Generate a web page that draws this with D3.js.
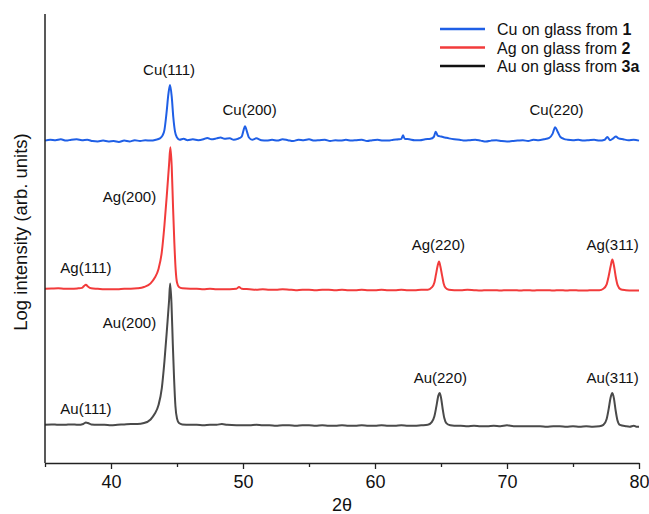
<!DOCTYPE html>
<html>
<head>
<meta charset="utf-8">
<script src="https://cdn.jsdelivr.net/npm/d3@7"></script>
<style>
  body { margin: 0; background: #fff; }
  svg text { font-family: "Liberation Sans", Arial, Helvetica, sans-serif; fill: #111; }
</style>
</head>
<body>
<div id="chart"></div>
<script>
// 2theta (deg) vs log intensity (arb. units, traces offset)
var cuData = [
  [35.0,71.8],[35.4,72.0],[35.8,71.9],[36.2,72.1],[36.6,71.8],[37.0,72.0],[37.4,72.1],[37.8,71.9],
  [38.2,72.0],[38.6,71.7],[39.0,71.6],[39.4,71.8],[39.8,71.6],[40.2,71.7],[40.6,71.5],[41.0,71.8],
  [41.4,71.6],[41.8,71.9],[42.2,71.7],[42.6,71.9],[43.0,71.8],[43.4,72.0],[43.7,72.3],[43.9,72.9],
  [44.05,74.2],[44.2,77.8],[44.35,82.2],[44.47,84.2],[44.6,81.6],[44.72,77.0],[44.85,73.8],[45.0,72.5],
  [45.2,72.0],[45.5,72.2],[45.8,71.9],[46.2,72.1],[46.6,71.9],[47.0,72.1],[47.3,72.4],[47.6,72.1],
  [48.0,72.3],[48.3,72.5],[48.6,72.2],[49.0,72.3],[49.3,72.0],[49.6,72.2],[49.9,72.7],[50.05,74.2],
  [50.15,75.0],[50.3,73.8],[50.45,72.5],[50.7,72.0],[51.0,72.3],[51.4,71.9],[51.8,71.8],[52.2,72.0],
  [52.6,71.8],[53.0,72.1],[53.4,71.9],[53.8,71.7],[54.2,72.0],[54.6,71.9],[55.0,72.1],[55.4,71.8],
  [55.8,71.9],[56.2,72.0],[56.6,71.7],[57.0,71.9],[57.4,71.8],[57.8,72.0],[58.2,71.8],[58.6,71.9],
  [59.0,72.0],[59.4,71.7],[59.8,71.9],[60.2,72.0],[60.6,71.8],[61.0,71.8],[61.4,72.0],[61.8,72.1],
  [62.0,72.2],[62.12,73.0],[62.25,72.2],[62.6,72.1],[63.0,71.9],[63.4,71.9],[63.8,72.1],[64.2,72.2],
  [64.45,72.6],[64.6,73.8],[64.75,72.9],[65.0,72.7],[65.3,72.5],[65.6,72.3],[66.0,72.1],[66.4,72.0],
  [66.8,71.8],[67.2,71.9],[67.6,72.0],[68.0,71.8],[68.4,71.6],[68.8,71.8],[69.2,71.9],[69.6,71.7],
  [70.0,71.6],[70.4,71.7],[70.8,71.8],[71.2,71.9],[71.6,71.7],[72.0,72.0],[72.4,71.9],[72.8,72.1],
  [73.2,72.4],[73.45,73.3],[73.65,74.8],[73.85,73.7],[74.05,72.6],[74.3,72.2],[74.6,72.0],[75.0,71.9],
  [75.4,72.0],[75.8,71.8],[76.2,71.9],[76.6,72.0],[77.0,71.8],[77.4,72.0],[77.6,72.6],[77.8,71.9],
  [78.05,72.3],[78.25,72.7],[78.45,72.3],[78.8,72.1],[79.2,71.9],[79.6,72.0],[80.0,71.8]
];

var agData = [
  [35.0,38.8],[35.5,38.85],[36.0,38.9],[36.5,38.8],[37.0,38.8],[37.5,38.9],[37.8,39.0],[37.95,39.4],
  [38.1,39.7],[38.25,39.3],[38.5,38.9],[39.0,38.8],[39.5,38.7],[40.0,38.7],[40.5,38.7],[41.0,38.8],
  [41.5,38.8],[42.0,38.9],[42.5,39.2],[43.0,40.0],[43.3,41.2],[43.6,43.2],[43.85,47.0],[44.05,53.0],
  [44.25,60.5],[44.4,66.5],[44.5,70.3],[44.6,66.0],[44.7,57.0],[44.8,49.0],[44.9,43.0],[45.0,40.2],
  [45.15,39.2],[45.4,38.9],[46.0,38.8],[46.5,38.8],[47.0,38.7],[47.5,38.8],[48.0,38.7],[48.5,38.7],
  [49.0,38.7],[49.5,38.8],[49.7,39.2],[49.9,38.8],[50.5,38.7],[51.0,38.6],[51.5,38.7],[52.0,38.6],
  [52.5,38.6],[53.0,38.7],[53.5,38.6],[54.0,38.5],[54.5,38.6],[55.0,38.6],[55.5,38.5],[56.0,38.6],
  [56.5,38.6],[57.0,38.5],[57.5,38.6],[58.0,38.5],[58.5,38.5],[59.0,38.6],[59.5,38.5],[60.0,38.5],
  [60.5,38.6],[61.0,38.5],[61.5,38.5],[62.0,38.6],[62.5,38.5],[63.0,38.5],[63.5,38.6],[64.0,38.6],
  [64.3,39.1],[64.5,40.2],[64.62,42.0],[64.75,44.0],[64.85,44.9],[64.95,43.8],[65.08,41.8],[65.2,40.0],
  [65.35,39.0],[65.6,38.6],[66.0,38.5],[66.5,38.5],[67.0,38.6],[67.5,38.5],[68.0,38.4],[68.5,38.5],
  [69.0,38.5],[69.5,38.4],[70.0,38.5],[70.5,38.5],[71.0,38.4],[71.5,38.5],[72.0,38.4],[72.5,38.5],
  [73.0,38.5],[73.5,38.4],[74.0,38.5],[74.5,38.4],[75.0,38.5],[75.5,38.4],[76.0,38.4],[76.5,38.5],
  [77.0,38.5],[77.3,38.8],[77.55,39.8],[77.7,41.6],[77.85,43.8],[77.98,45.3],[78.1,44.0],[78.23,41.6],
  [78.38,39.6],[78.6,38.7],[79.0,38.5],[79.5,38.4],[80.0,38.4]
];

var auData = [
  [35.0,8.5],[35.5,8.6],[36.0,8.5],[36.5,8.5],[37.0,8.6],[37.5,8.5],[37.9,8.7],[38.1,9.0],
  [38.25,8.9],[38.5,8.6],[39.0,8.5],[39.5,8.5],[40.0,8.4],[40.5,8.5],[41.0,8.6],[41.5,8.7],
  [42.0,8.7],[42.5,8.9],[43.0,9.7],[43.3,10.9],[43.6,12.9],[43.85,16.7],[44.05,22.7],[44.25,30.2],
  [44.4,36.2],[44.48,40.0],[44.58,35.7],[44.68,26.7],[44.78,18.7],[44.88,12.7],[45.0,9.9],[45.15,8.9],
  [45.4,8.6],[46.0,8.5],[46.5,8.5],[47.0,8.4],[47.5,8.5],[48.0,8.5],[48.4,8.7],[48.8,8.5],
  [49.5,8.4],[50.0,8.4],[50.5,8.4],[51.0,8.5],[51.5,8.4],[52.0,8.4],[52.5,8.3],[53.0,8.4],
  [53.5,8.4],[54.0,8.3],[54.5,8.4],[55.0,8.4],[55.5,8.3],[56.0,8.4],[56.5,8.3],[57.0,8.3],
  [57.5,8.4],[58.0,8.3],[58.5,8.3],[59.0,8.4],[59.5,8.3],[60.0,8.3],[60.5,8.4],[61.0,8.3],
  [61.5,8.3],[62.0,8.4],[62.5,8.3],[63.0,8.3],[63.5,8.4],[64.0,8.5],[64.3,9.1],[64.5,10.4],
  [64.65,12.6],[64.8,15.0],[64.9,15.6],[65.0,14.6],[65.12,12.2],[65.25,10.0],[65.4,8.9],[65.7,8.4],
  [66.0,8.3],[66.5,8.3],[67.0,8.2],[67.5,8.3],[68.0,8.2],[68.5,8.2],[69.0,8.3],[69.5,8.2],
  [70.0,8.4],[70.5,8.2],[71.0,8.2],[71.5,8.2],[72.0,8.2],[72.5,8.2],[73.0,8.1],[73.5,8.2],
  [74.0,8.2],[74.5,8.1],[75.0,8.2],[75.5,8.1],[76.0,8.2],[76.5,8.1],[77.0,8.2],[77.3,8.5],
  [77.55,9.8],[77.7,12.0],[77.85,14.6],[77.98,15.6],[78.1,14.4],[78.22,11.9],[78.36,9.6],[78.55,8.5],
  [79.0,8.2],[79.3,8.1],[79.6,8.3],[79.8,8.1],[80.0,8.1]
];

// peak labels: name, 2theta, label value (arb.)
var peakLabels = [
  ["Cu(111)", 44.4, 87.7], ["Cu(200)", 50.5, 78.7], ["Cu(220)", 73.75, 78.7],
  ["Ag(200)", 41.4, 59.3], ["Ag(111)", 38.1, 43.5], ["Ag(220)", 64.8, 48.7], ["Ag(311)", 78.0, 48.7],
  ["Au(200)", 41.4, 31.4], ["Au(111)", 38.1, 12.2], ["Au(220)", 64.95, 19.0], ["Au(311)", 78.0, 19.0]
];

var seriesNames = ["Cu on glass from ", "Ag on glass from ", "Au on glass from "];
var seriesRefs = ["1", "2", "3a"];
var seriesColors = ["#1f5fe6", "#f23b3b", "#4a4a4a"];
var legendColors = ["#1f5fe6", "#f23b3b", "#111111"];
var majorTicks = [40, 50, 60, 70, 80];
var minorTicks = [35, 45, 55, 65, 75];

var width = 649, height = 514;
var margin = { top: 14, right: 10, bottom: 51, left: 45 };

var svg = d3.select("#chart").append("svg")
    .attr("width", width)
    .attr("height", height);

var x = d3.scaleLinear().domain([35, 80]).range([margin.left, width - margin.right]);
var y = d3.scaleLinear().domain([0, 100]).range([height - margin.bottom, margin.top]);

var line = d3.line()
    .x(function(d) { return x(d[0]); })
    .y(function(d) { return y(d[1]); })
    .curve(d3.curveMonotoneX);

// traces
[cuData, agData, auData].forEach(function(data, i) {
    svg.append("path")
        .datum(data)
        .attr("fill", "none")
        .attr("stroke", seriesColors[i])
        .attr("stroke-width", 2)
        .attr("stroke-linejoin", "round")
        .attr("d", line);
});

// x axis
var xAxis = svg.append("g")
    .attr("transform", "translate(0," + y(0) + ")")
    .call(d3.axisBottom(x).tickValues(majorTicks).tickSize(6).tickPadding(6).tickSizeOuter(0));
xAxis.select(".domain").attr("stroke", "#222").attr("stroke-width", 1.5);
xAxis.selectAll(".tick line").attr("stroke", "#222").attr("stroke-width", 1.3);
xAxis.selectAll(".tick text").attr("font-size", 18).attr("fill", "#111")
    .style("font-family", "'Liberation Sans', Arial, sans-serif");

svg.append("g")
    .attr("transform", "translate(0," + y(0) + ")")
    .call(d3.axisBottom(x).tickValues(minorTicks).tickSize(4).tickFormat(""))
    .call(function(g) { g.select(".domain").remove(); })
    .selectAll(".tick line").attr("stroke", "#222").attr("stroke-width", 1.3);

// y axis (no ticks)
svg.append("line")
    .attr("x1", x(35)).attr("x2", x(35))
    .attr("y1", y(100)).attr("y2", y(0))
    .attr("stroke", "#222").attr("stroke-width", 1.5);

// axis titles
svg.append("text")
    .attr("x", (x(35) + x(80)) / 2)
    .attr("y", 511)
    .attr("text-anchor", "middle")
    .attr("font-size", 18)
    .text("2θ");

svg.append("text")
    .attr("transform", "translate(27," + 232 + ") rotate(-90)")
    .attr("text-anchor", "middle")
    .attr("font-size", 18.5)
    .text("Log intensity (arb. units)");

// peak labels
svg.selectAll(".peak-label")
    .data(peakLabels)
    .enter().append("text")
    .attr("class", "peak-label")
    .attr("x", function(d) { return x(d[1]); })
    .attr("y", function(d) { return y(d[2]); })
    .attr("text-anchor", "middle")
    .attr("dominant-baseline", "central")
    .attr("font-size", 15)
    .text(function(d) { return d[0]; });

// legend
var legend = svg.append("g").attr("transform", "translate(440,29)");
seriesNames.forEach(function(name, i) {
    var row = legend.append("g").attr("transform", "translate(0," + (i * 18.5) + ")");
    row.append("line")
        .attr("x1", 0).attr("x2", 45)
        .attr("stroke", legendColors[i])
        .attr("stroke-width", 2.5);
    var t = row.append("text")
        .attr("x", 57)
        .attr("dominant-baseline", "central")
        .attr("font-size", 16);
    t.append("tspan").text(name);
    t.append("tspan").attr("font-weight", "bold").text(seriesRefs[i]);
});
</script>
</body>
</html>
